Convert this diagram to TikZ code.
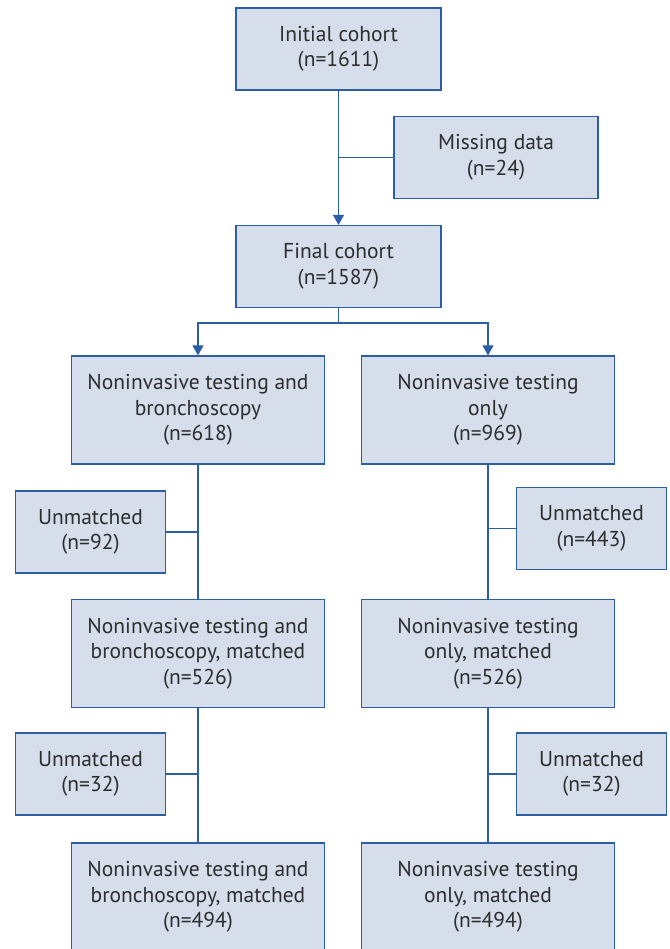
\documentclass[tikz,border=0pt]{standalone}
\usepackage{fontspec}
\setmainfont{PT Sans}
\usepackage{xcolor}
\usetikzlibrary{arrows.meta}
\definecolor{boxfill}{RGB}{214, 221, 235}
\definecolor{boxline}{RGB}{44, 94, 166}
\definecolor{textgray}{RGB}{45, 45, 45}
\tikzset{
  box/.style={draw=boxline, line width=1.2pt, fill=boxfill, align=center, inner sep=0pt,
    text=textgray, font=\fontsize{21.5}{25.5}\selectfont},
  small/.style={box, minimum width=205pt, minimum height=82pt},
  wide/.style={box, minimum width=253pt, minimum height=108pt},
  side/.style={box, minimum width=150pt, minimum height=82pt},
  link/.style={draw=boxline, line width=1.2pt},
  arrow/.style={link, -{Triangle[width=11pt, length=10pt]}}
}
\begin{document}
\begin{tikzpicture}[x=1pt, y=-1pt]
\useasboundingbox (0,0) rectangle (669,949);

\node[small] (init) at (338.5,49) {Initial cohort\\(n=1611)};
\node[small, minimum width=204pt] (missing) at (496,157.5) {Missing data\\(n=24)};
\node[small] (final) at (338.5,266.5) {Final cohort\\(n=1587)};

\node[wide] (both1) at (198,410) {Noninvasive testing and\\bronchoscopy\\(n=618)};
\node[wide] (only1) at (488,410) {Noninvasive testing\\only\\(n=969)};
\node[side] (unb1) at (90.5,532) {Unmatched\\(n=92)};
\node[side] (uno1) at (591.5,528.5) {Unmatched\\(n=443)};

\node[wide] (both2) at (198,653.5) {Noninvasive testing and\\bronchoscopy, matched\\(n=526)};
\node[wide] (only2) at (488,653.5) {Noninvasive testing\\only, matched\\(n=526)};
\node[side] (unb2) at (90.5,774) {Unmatched\\(n=32)};
\node[side] (uno2) at (591.5,774) {Unmatched\\(n=32)};

\node[wide] (both3) at (198,897) {Noninvasive testing and\\bronchoscopy, matched\\(n=494)};
\node[wide] (only3) at (488,897) {Noninvasive testing\\only, matched\\(n=494)};

\coordinate (split) at (338.5,323);

\draw[arrow] (init.south) -- (final.north);
\draw[link] (missing.west) -- (missing.west -| init.south);

\draw[link] (final.south) -- (split);
\draw[arrow] (split) -| (both1.north);
\draw[arrow] (split) -| (only1.north);

\draw[link] (both1.south) -- (both2.north);
\draw[link] (only1.south) -- (only2.north);
\draw[link] (unb1.east) -- (unb1.east -| both1.south);
\draw[link] (uno1.west) -- (uno1.west -| only1.south);

\draw[link] (both2.south) -- (both3.north);
\draw[link] (only2.south) -- (only3.north);
\draw[link] (unb2.east) -- (unb2.east -| both2.south);
\draw[link] (uno2.west) -- (uno2.west -| only2.south);
\end{tikzpicture}
\end{document}
